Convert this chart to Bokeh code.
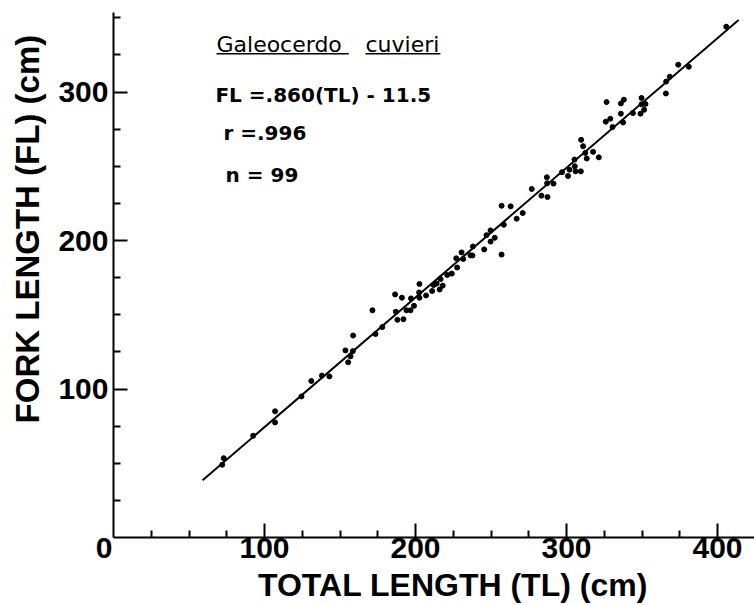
import numpy as np
from bokeh.plotting import figure
from bokeh.models import FixedTicker, Label, Range1d
from bokeh.embed import file_html
from bokeh.resources import INLINE

# ---- data ----
TL = [73, 72, 92.5, 107, 107, 124.5, 131, 138, 143,
      155.4, 157, 153.6, 158.5, 158.7, 173.5, 178, 171.5, 186.5, 191, 187, 188, 192,
      194, 196.7, 199, 197, 202.6, 202.4, 202.6, 207, 211, 212, 214, 216, 218, 216.6,
      221, 224, 227.6, 227, 231.6, 230.5, 236.4,
      237.7, 238, 245.5, 247, 249.7, 249.7, 252.5, 257, 258.5, 257, 263, 267, 271,
      277, 283.4, 287.4, 287, 287.2, 291.4, 297, 301, 302, 306, 305.5, 309.5, 305.3,
      313.4, 312.4, 317.6, 321.4,
      311, 309.7, 330.5, 326, 329, 337.5, 336, 344, 349, 351.4, 349.7, 352.3, 349.7,
      326.5, 336, 338, 365.8, 366, 368.4, 374, 381,
      405.8]
FL = [53.4, 49, 68.5, 85, 77.5, 95, 105.4, 109, 108.5,
      118, 122, 126, 125.5, 136, 137, 141.7, 153, 163.7, 161.5, 152, 146.6, 147,
      153, 153, 156, 161, 161.5, 165, 170.7, 163, 166, 170, 171, 167, 169.6, 174,
      176.8, 177.7, 181.8, 188, 187.6, 192, 190,
      189.9, 196, 194, 203.6, 206.8, 199.3, 201.8, 190.5, 210.6, 223.4, 223, 214.7, 218.5,
      234.7, 230.2, 229.3, 242.6, 238.5, 238.3, 246, 243.5, 247.7, 246.6, 250, 246.6, 254.5,
      255.2, 259, 259.7, 256,
      263.5, 267.8, 276.4, 280, 282, 279.5, 285.4, 285.8, 285.4, 288, 291.7, 291.9, 296,
      293.2, 292.3, 294.8, 299, 307, 310.3, 318.4, 317,
      344]
LINE_TL = [59, 414]
LINE_FL = [38.5, 348.5]

X_TICKS = [100, 200, 300, 400]
Y_TICKS = [100, 200, 300]
X_MINOR = [25, 50, 75, 125, 150, 175, 225, 250, 275, 325, 350, 375, 425]
Y_MINOR = [25, 50, 75, 125, 150, 175, 225, 250, 275, 325, 350]
X_MAX = 424.5
Y_MAX = 353.5

SPECIES_1 = "Galeocerdo"
SPECIES_2 = "cuvieri"
EQUATION = "FL =.860(TL) - 11.5"
R_TEXT = "r =.996"
N_TEXT = "n = 99"
X_TITLE = "TOTAL LENGTH (TL) (cm)"
Y_TITLE = "FORK LENGTH (FL) (cm)"

# frame covers the whole canvas; axes are pinned at the origin
p = figure(width=754, height=605, output_backend="svg", toolbar_location=None,
           x_range=Range1d(-113 / 1.51, X_MAX),
           y_range=Range1d(-68 / 1.485, 537 / 1.485),
           min_border=0, min_border_left=0, min_border_right=0,
           min_border_top=0, min_border_bottom=0)
p.outline_line_color = None
p.grid.visible = False
p.background_fill_color = "white"
p.border_fill_color = "white"

for ax, ticks, minors, bnds in ((p.xaxis, X_TICKS, X_MINOR, (0, X_MAX)),
                                (p.yaxis, Y_TICKS, Y_MINOR, (0, Y_MAX))):
    ax.fixed_location = 0
    ax.bounds = bnds
    ax.ticker = FixedTicker(ticks=ticks, minor_ticks=minors)
    ax.axis_line_width = 2
    ax.axis_line_color = "black"
    ax.major_tick_line_width = 2
    ax.minor_tick_line_width = 2
    ax.major_tick_line_color = "black"
    ax.minor_tick_line_color = "black"
    ax.major_tick_in = 14
    ax.major_tick_out = 0
    ax.minor_tick_in = 7
    ax.minor_tick_out = 0
    ax.major_label_text_font = "Liberation Sans"
    ax.major_label_text_font_style = "bold"
    ax.major_label_text_font_size = "30px"
    ax.major_label_text_color = "black"

p.xaxis.major_label_standoff = 0
p.yaxis.major_label_standoff = 5

# regression line and points
p.line(LINE_TL, LINE_FL, line_width=2, line_color="black")
p.scatter(TL, FL, size=5, color="black")

# corner zero
p.add_layout(Label(x=-0.7, y=-7.1, text="0", text_font="Liberation Sans",
                   text_font_style="bold", text_font_size="30px",
                   text_align="right", text_baseline="middle", text_color="black"))

# axis titles
p.add_layout(Label(x=224.8, y=-32.3, text=X_TITLE, text_font="Liberation Sans",
                   text_font_style="bold", text_font_size="32px",
                   text_align="center", text_baseline="middle", text_color="black"))
p.add_layout(Label(x=-57, y=207.7, text=Y_TITLE, text_font="Liberation Sans",
                   text_font_style="bold", text_font_size="33px", angle=np.pi / 2,
                   text_align="center", text_baseline="middle", text_color="black"))

# annotation block
p.add_layout(Label(x=68.2, y=332, text=SPECIES_1, text_font="DejaVu Sans",
                   text_font_size="22px", text_align="left", text_baseline="middle",
                   text_color="black"))
p.add_layout(Label(x=166.9, y=332, text=SPECIES_2, text_font="DejaVu Sans",
                   text_font_size="22px", text_align="left", text_baseline="middle",
                   text_color="black"))
p.segment(x0=[68.2, 166.9], y0=[325.8, 325.8], x1=[155.8, 216.5], y1=[325.8, 325.8],
          line_width=1.5, line_color="black")
for txt, xx, yy in ((EQUATION, 67.5, 298.3), (R_TEXT, 72.8, 272.7), (N_TEXT, 74.2, 243.8)):
    p.add_layout(Label(x=xx, y=yy, text=txt, text_font="DejaVu Sans",
                       text_font_style="bold", text_font_size="20px",
                       text_align="left", text_baseline="middle", text_color="black"))

open("out.html", "w").write(file_html(p, INLINE))
